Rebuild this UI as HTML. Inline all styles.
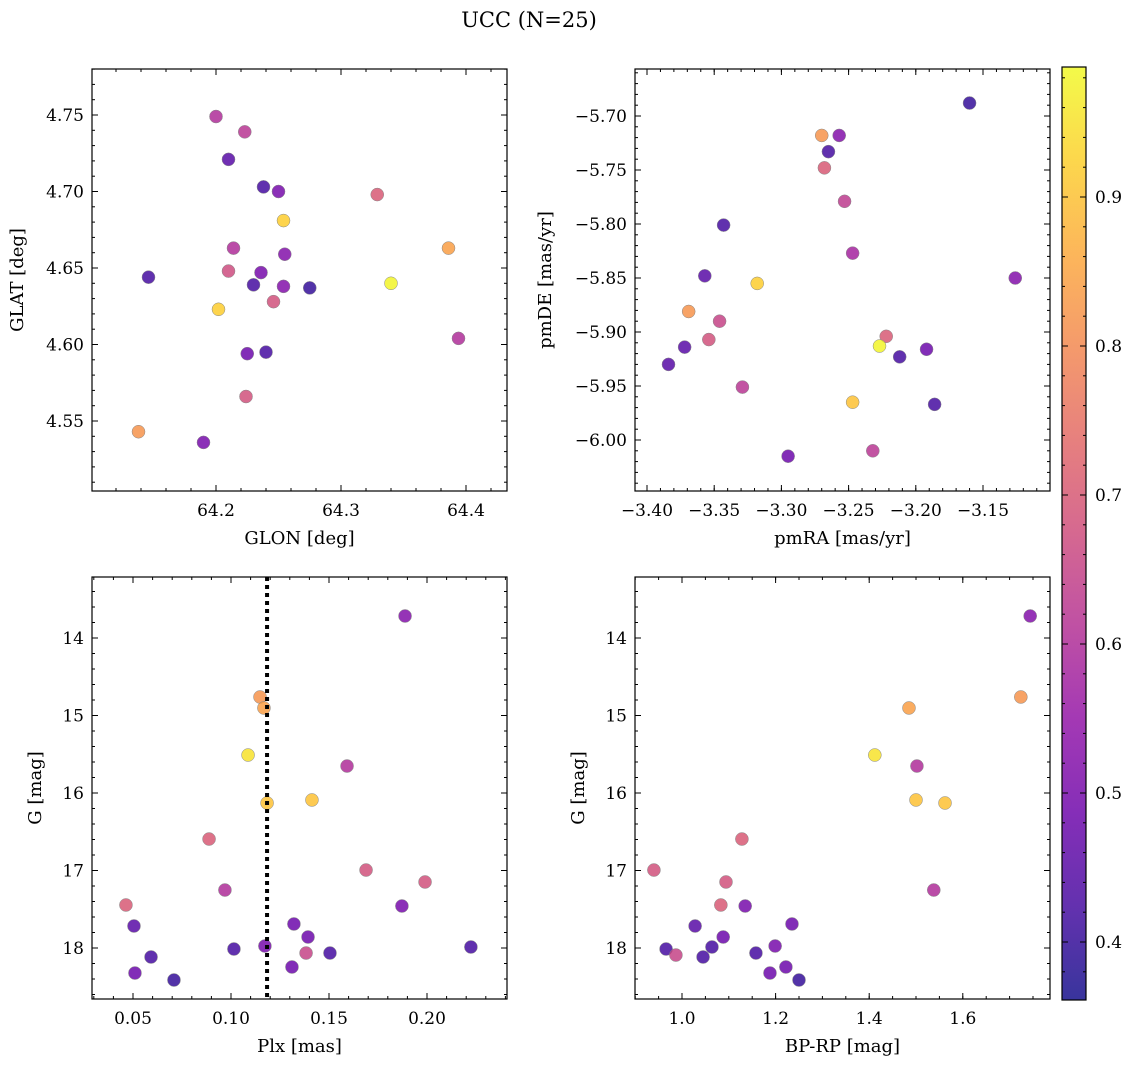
<!DOCTYPE html>
<html><head><meta charset="utf-8">
<style>
html,body{margin:0;padding:0;background:#fff;}
svg{display:block;font-family:"DejaVu Serif","Liberation Serif",serif;}
</style></head>
<body>
<svg id="fig" width="1136" height="1068" viewBox="0 0 1136 1068" xmlns="http://www.w3.org/2000/svg">
<defs>
<linearGradient id="cbgrad" x1="0" y1="1" x2="0" y2="0">
<stop offset="0" stop-color="#0d0887"/><stop offset="0.1" stop-color="#41049d"/><stop offset="0.2" stop-color="#6a00a8"/><stop offset="0.3" stop-color="#8f0da4"/><stop offset="0.4" stop-color="#b12a90"/><stop offset="0.5" stop-color="#cc4778"/><stop offset="0.6" stop-color="#e16462"/><stop offset="0.7" stop-color="#f2844b"/><stop offset="0.8" stop-color="#fca636"/><stop offset="0.9" stop-color="#fcce25"/><stop offset="1" stop-color="#f0f921"/>
</linearGradient>
</defs>
<text x="529" y="27" text-anchor="middle" font-size="21">UCC (N=25)</text>
</svg>
<script>
// ---- data ----
const glon = [64.200,64.223,64.210,64.238,64.250,64.329,64.254,64.214,64.255,64.210,64.236,64.146,64.340,64.230,64.254,64.275,64.246,64.202,64.394,64.225,64.240,64.224,64.138,64.190,64.386];
const glat = [4.749,4.739,4.721,4.703,4.700,4.698,4.681,4.663,4.659,4.648,4.647,4.644,4.640,4.639,4.638,4.637,4.628,4.623,4.604,4.594,4.595,4.566,4.543,4.536,4.663];
const probA = [0.60,0.62,0.45,0.42,0.50,0.70,0.92,0.60,0.52,0.67,0.50,0.42,0.98,0.42,0.52,0.40,0.68,0.92,0.60,0.48,0.42,0.68,0.82,0.50,0.84];

const pmra = [-3.160,-3.257,-3.270,-3.265,-3.268,-3.253,-3.343,-3.247,-3.126,-3.357,-3.318,-3.369,-3.346,-3.222,-3.354,-3.372,-3.227,-3.212,-3.192,-3.384,-3.329,-3.247,-3.186,-3.232,-3.295];
const pmde = [-5.688,-5.718,-5.718,-5.733,-5.748,-5.779,-5.801,-5.827,-5.850,-5.848,-5.855,-5.881,-5.890,-5.904,-5.907,-5.914,-5.913,-5.923,-5.916,-5.930,-5.951,-5.965,-5.967,-6.010,-6.015];
const probB = [0.40,0.52,0.82,0.42,0.70,0.63,0.42,0.58,0.52,0.45,0.92,0.82,0.65,0.70,0.68,0.45,0.98,0.42,0.48,0.45,0.62,0.90,0.42,0.62,0.48];

const plx = [0.1888,0.1148,0.1168,0.1087,0.1592,0.1184,0.1413,0.0888,0.1689,0.0969,0.1990,0.0464,0.1872,0.0505,0.1321,0.1393,0.1173,0.2224,0.1015,0.0592,0.1383,0.1505,0.1311,0.0510,0.0709];
const gmagC = [13.716,14.761,14.903,15.510,15.652,16.129,16.090,16.594,16.994,17.252,17.148,17.445,17.458,17.716,17.690,17.858,17.974,17.987,18.013,18.116,18.065,18.065,18.245,18.323,18.413];
const probC = [0.52,0.82,0.84,0.95,0.60,0.90,0.90,0.70,0.68,0.60,0.68,0.70,0.50,0.45,0.48,0.48,0.50,0.42,0.42,0.42,0.65,0.42,0.48,0.48,0.40];
const plxLine = 0.1184;

const bprp = [1.744,1.724,1.485,1.412,1.502,1.500,1.562,1.128,0.940,1.094,1.538,1.083,1.135,1.028,1.235,1.088,1.199,0.966,1.064,1.045,1.158,0.987,1.222,1.188,1.250];
const gmagD = [13.716,14.761,14.903,15.510,15.652,16.090,16.129,16.594,16.994,17.148,17.252,17.445,17.458,17.716,17.690,17.858,17.974,18.013,17.987,18.116,18.065,18.091,18.245,18.323,18.413];
const probD = [0.52,0.82,0.84,0.95,0.60,0.90,0.90,0.70,0.68,0.68,0.60,0.70,0.50,0.45,0.48,0.48,0.50,0.42,0.42,0.42,0.42,0.65,0.48,0.48,0.40];

const cbTicks = [0.4,0.5,0.6,0.7,0.8,0.9];
const cMin = 0.361, cMax = 0.987;

// ---- helpers ----
const NS = "http://www.w3.org/2000/svg";
const svg = document.getElementById('fig');
const TF = 17, LF = 18;
function mk(tag, attrs, parent){const e=document.createElementNS(NS,tag);for(const k in attrs)e.setAttribute(k,attrs[k]);(parent||svg).appendChild(e);return e;}
const stops=[[13,8,135],[65,4,157],[106,0,168],[143,13,164],[177,42,144],[204,71,120],[225,100,98],[242,132,75],[252,166,54],[252,206,37],[240,249,33]];
function plasma(t){t=Math.max(0,Math.min(1,t));const f=t*10,i=Math.min(9,Math.floor(f)),r=f-i;const a=stops[i],b=stops[i+1];return 'rgb('+a.map((v,k)=>Math.round(v+(b[k]-v)*r)).join(',')+')';}
function fmt(v,d){return v.toFixed(d).replace('-','\u2212');}

function panel(cfg){
  const g=mk('g',{});
  
  
  const {x0,x1,y0,y1}=cfg;
  for(let i=0;i<cfg.xs.length;i++){
    const c=mk('circle',{cx:cfg.sx(cfg.xs[i]),cy:cfg.sy(cfg.ys[i]),r:6.5,fill:plasma((cfg.cs[i]-cMin)/(cMax-cMin)),'fill-opacity':0.82,stroke:'#888','stroke-width':0.5},g);
    
    
  }
  if(cfg.extra) cfg.extra(g);
  const fr=mk('rect',{x:x0,y:y0,width:x1-x0,height:y1-y0,fill:'none',stroke:'#000','stroke-width':1.2},g);
  
  
  for(let v=cfg.xmin;v<=cfg.xmax+1e-9;v+=cfg.xminor){const p=cfg.sx(v);if(p<x0||p>x1)continue;
    mk('line',{x1:p,x2:p,y1:y1,y2:y1-3,stroke:'#000'},g);mk('line',{x1:p,x2:p,y1:y0,y2:y0+3,stroke:'#000'},g);}
  cfg.xt.forEach(v=>{const p=cfg.sx(v);
    mk('line',{x1:p,x2:p,y1:y1,y2:y1-6,stroke:'#000'},g);mk('line',{x1:p,x2:p,y1:y0,y2:y0+6,stroke:'#000'},g);
    const t=mk('text',{x:p,y:y1+25,'text-anchor':'middle','font-size':TF},g);t.textContent=fmt(v,cfg.xd);
    
    });
  for(let v=cfg.ymin;v<=cfg.ymax+1e-9;v+=cfg.yminor){const p=cfg.sy(v);if(p<y0||p>y1)continue;
    mk('line',{x1:x0,x2:x0+3,y1:p,y2:p,stroke:'#000'},g);mk('line',{x1:x1,x2:x1-3,y1:p,y2:p,stroke:'#000'},g);}
  cfg.yt.forEach(v=>{const p=cfg.sy(v);
    mk('line',{x1:x0,x2:x0+6,y1:p,y2:p,stroke:'#000'},g);mk('line',{x1:x1,x2:x1-6,y1:p,y2:p,stroke:'#000'},g);
    const t=mk('text',{x:x0-8,y:p+6,'text-anchor':'end','font-size':TF},g);t.textContent=fmt(v,cfg.yd);
    
    });
  const xl=mk('text',{x:(x0+x1)/2,y:y1+53,'text-anchor':'middle','font-size':LF},g);xl.textContent=cfg.xlabel;
  
  
  const yl=mk('text',{x:cfg.ylx,y:(y0+y1)/2,'text-anchor':'middle','font-size':LF,transform:'rotate(-90 '+cfg.ylx+' '+((y0+y1)/2)+')'},g);yl.textContent=cfg.ylabel;
  
  
}

panel({name:'glon-glat-panel',x0:92,x1:507,y0:69,y1:491,xs:glon,ys:glat,cs:probA,
  sx:v=>216+(v-64.2)*1250, sy:v=>115+(4.75-v)*1530,
  xmin:64.10,xmax:64.44,xminor:0.02,xt:[64.2,64.3,64.4],xd:1,
  ymin:4.50,ymax:4.78,yminor:0.01,yt:[4.55,4.60,4.65,4.70,4.75],yd:2,
  xlabel:'GLON [deg]',ylabel:'GLAT [deg]',ylx:23});

panel({name:'proper-motion-panel',x0:635,x1:1050,y0:69,y1:491,xs:pmra,ys:pmde,cs:probB,
  sx:v=>647+(v+3.40)*1344, sy:v=>116+(-5.70-v)*1080,
  xmin:-3.41,xmax:-3.09,xminor:0.01,xt:[-3.40,-3.35,-3.30,-3.25,-3.20,-3.15],xd:2,
  ymin:-6.04,ymax:-5.65,yminor:0.01,yt:[-6.00,-5.95,-5.90,-5.85,-5.80,-5.75,-5.70],yd:2,
  xlabel:'pmRA [mas/yr]',ylabel:'pmDE [mas/yr]',ylx:551});

panel({name:'plx-g-panel',x0:92,x1:507,y0:577,y1:999,xs:plx,ys:gmagC,cs:probC,
  sx:v=>133+(v-0.05)*1960, sy:v=>638+(v-14)*77.5,
  xmin:0.03,xmax:0.24,xminor:0.01,xt:[0.05,0.10,0.15,0.20],xd:2,
  ymin:13.2,ymax:18.8,yminor:0.2,yt:[14,15,16,17,18],yd:0,
  xlabel:'Plx [mas]',ylabel:'G [mag]',ylx:41,
  extra:g=>{const p=133+(plxLine-0.05)*1960;const l=mk('line',{x1:p,x2:p,y1:577,y2:999,stroke:'#000','stroke-width':4,'stroke-dasharray':'4 4'},g);
    
    }});

panel({name:'cmd-panel',x0:635,x1:1050,y0:577,y1:999,xs:bprp,ys:gmagD,cs:probD,
  sx:v=>682+(v-1)*468, sy:v=>638+(v-14)*77.5,
  xmin:0.9,xmax:1.8,xminor:0.05,xt:[1.0,1.2,1.4,1.6],xd:1,
  ymin:13.2,ymax:18.8,yminor:0.2,yt:[14,15,16,17,18],yd:0,
  xlabel:'BP-RP [mag]',ylabel:'G [mag]',ylx:584});

// colorbar
const cb=mk('g',{});


const cbY=v=>197+(0.9-v)*1490;
mk('rect',{x:1062,y:67,width:24,height:933,fill:'url(#cbgrad)','fill-opacity':0.82},cb);
mk('rect',{x:1062,y:67,width:24,height:933,fill:'none',stroke:'#000','stroke-width':1.2},cb);
for(let v=0.36;v<=0.99;v+=0.02){const p=cbY(v);if(p<67||p>1000)continue;mk('line',{x1:1086,x2:1083,y1:p,y2:p,stroke:'#000'},cb);mk('line',{x1:1062,x2:1065,y1:p,y2:p,stroke:'#000'},cb);}
cbTicks.forEach(v=>{const p=cbY(v);mk('line',{x1:1086,x2:1080,y1:p,y2:p,stroke:'#000'},cb);mk('line',{x1:1062,x2:1068,y1:p,y2:p,stroke:'#000'},cb);
  const t=mk('text',{x:1095,y:p+6,'font-size':TF},cb);t.textContent=v.toFixed(1);
  
  });
</script>
</body></html>
